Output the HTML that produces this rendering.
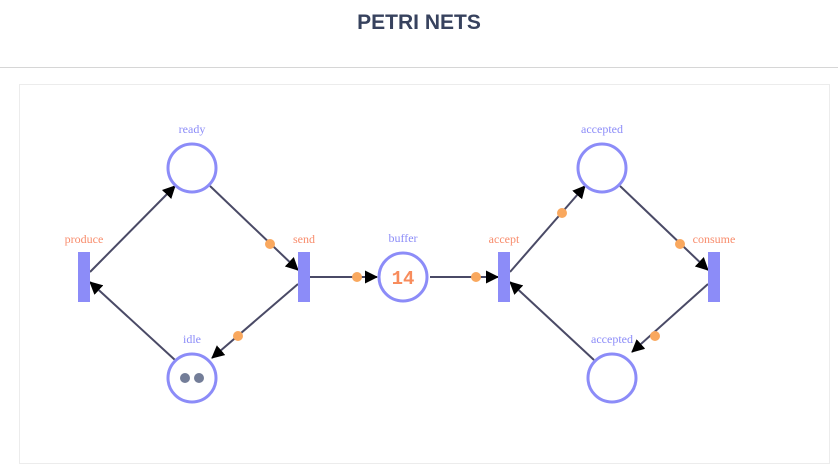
<!DOCTYPE html>
<html><head><style>
body{margin:0;width:838px;height:475px;background:#fff;overflow:hidden;font-family:"Liberation Sans",sans-serif}
.t{position:absolute;top:11px;left:0;width:838px;text-align:center;font-weight:bold;font-size:21px;color:#37425e;font-family:"Liberation Sans Narrow","Liberation Sans",sans-serif}
.hr{position:absolute;top:67px;left:0;width:838px;height:1px;background:#d6d6d6}
.box{position:absolute;left:19px;top:84px;width:809px;height:378px;border:1px solid #ececec}
svg{position:absolute;left:0;top:0}
</style></head><body>
<div class="t">PETRI NETS</div>
<div class="hr"></div>
<div class="box"></div>
<svg width="838" height="475" font-family="Liberation Serif, serif" font-size="12">
<defs><marker id="a" markerWidth="13" markerHeight="13" refX="12" refY="6.5" orient="auto" markerUnits="userSpaceOnUse" viewBox="0 0 13 13"><path d="M0,0L13,6.5L0,13z" fill="#000"/></marker></defs>
<g stroke="#4a4a66" stroke-width="2" fill="none" marker-end="url(#a)">
<line x1="90" y1="272" x2="175" y2="186"/>
<line x1="210" y1="186" x2="298" y2="270"/>
<line x1="298" y1="284" x2="212" y2="358"/>
<line x1="175" y1="360" x2="90" y2="282"/>
<line x1="310" y1="277" x2="377" y2="277"/>
<line x1="430" y1="277" x2="498" y2="277"/>
<line x1="510" y1="272" x2="585" y2="186"/>
<line x1="620" y1="186" x2="708" y2="270"/>
<line x1="708" y1="284" x2="632" y2="352"/>
<line x1="594" y1="360" x2="510" y2="282"/>
</g>
<g fill="#f9a85e">
<circle cx="270" cy="244" r="5"/><circle cx="357" cy="277" r="5"/><circle cx="238" cy="336" r="5"/><circle cx="476" cy="277" r="5"/><circle cx="562" cy="213" r="5"/><circle cx="680" cy="244" r="5"/><circle cx="655" cy="336" r="5"/>
</g>
<g fill="#fff" stroke="#8c8cf8" stroke-width="3">
<circle cx="192" cy="168" r="24"/><circle cx="192" cy="378" r="24"/><circle cx="403" cy="277" r="24"/><circle cx="602" cy="168" r="24"/><circle cx="612" cy="378" r="24"/>
</g>
<g fill="#8c8cf8">
<rect x="78" y="252" width="12" height="50"/><rect x="298" y="252" width="12" height="50"/><rect x="498" y="252" width="12" height="50"/><rect x="708" y="252" width="12" height="50"/>
</g>
<circle cx="185" cy="378" r="5" fill="#737d98"/><circle cx="199" cy="378" r="5" fill="#737d98"/>
<text x="403" y="284" text-anchor="middle" font-family="Liberation Mono, monospace" font-size="19" font-weight="bold" fill="#f88c5c">14</text>
<g fill="#8c8cf8" text-anchor="middle">
<text x="192" y="133">ready</text><text x="192" y="343">idle</text><text x="403" y="242">buffer</text><text x="602" y="133">accepted</text><text x="612" y="343">accepted</text>
</g>
<g fill="#f88c6c" text-anchor="middle">
<text x="84" y="243">produce</text><text x="304" y="243">send</text><text x="504" y="243">accept</text><text x="714" y="243">consume</text>
</g>
</svg>
</body></html>
